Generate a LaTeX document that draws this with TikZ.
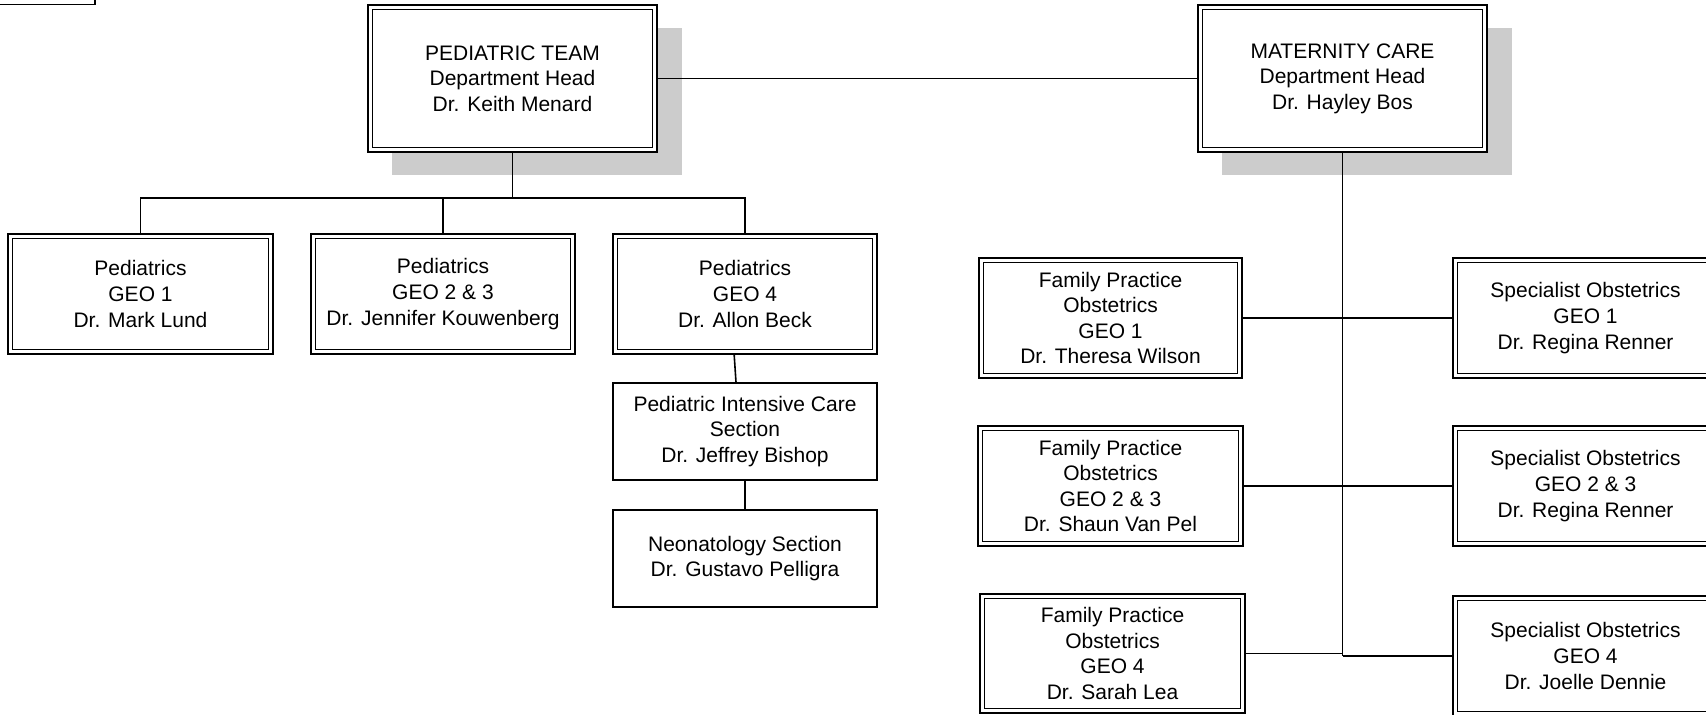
\documentclass[tikz,border=0pt]{standalone}
\usepackage{fontspec}
\setmainfont{Liberation Sans}
\usetikzlibrary{calc}
\pgfdeclarelayer{shadowlayer}
\pgfdeclarelayer{linklayer}
\pgfsetlayers{shadowlayer,linklayer,main}
\newcommand\orgtxt{\fontsize{10.5}{12.8}\selectfont}
\begin{document}
\begin{tikzpicture}[x=0.5pt,y=-0.5pt,
  dbox/.style 2 args={draw, double, double distance=1.75pt, line width=0.65pt, fill=white,
    inner sep=0pt, align=center, font=\orgtxt,
    minimum width={(#1-4.8)*0.5pt}, minimum height={(#2-4.8)*0.5pt}},
  sbox/.style 2 args={draw, line width=0.75pt, fill=white, inner sep=0pt, align=center,
    font=\orgtxt, minimum width={#1*0.5pt}, minimum height={#2*0.5pt}},
  shadowfill/.style={fill=black!20},
  link/.style={line width=0.8pt}]
\useasboundingbox (0,0) rectangle (1706,714);

% fragment of a box at the top left corner
\draw[line width=0.75pt] (-40,-40) rectangle (95,4.7);

% heads
\node[dbox={289}{147}] (pt) at (512.5,78.5) {PEDIATRIC TEAM\\Department Head\\Dr. Keith Menard};
\node[dbox={289}{147}] (mc) at (1342.5,78.5) {MATERNITY CARE\\Department Head\\Dr. Hayley Bos};

% pediatrics
\node[dbox={265}{120}] (p1) at (140.5,294) {Pediatrics\\GEO 1\\Dr. Mark Lund};
\node[dbox={264}{120}] (p23) at (443,294) {Pediatrics\\GEO 2 \& 3\\Dr. Jennifer Kouwenberg};
\node[dbox={264}{120}] (p4) at (745,294) {Pediatrics\\GEO 4\\Dr. Allon Beck};
\node[sbox={264}{97}] (pic) at (745,431.5) {Pediatric Intensive Care\\Section\\Dr. Jeffrey Bishop};
\node[sbox={264}{97}] (neo) at (745,558.5) {Neonatology Section\\Dr. Gustavo Pelligra};

% maternity
\node[dbox={263}{120}] (fp1) at (1110.5,318) {Family Practice\\Obstetrics\\GEO 1\\Dr. Theresa Wilson};
\node[dbox={265}{120}] (fp23) at (1110.5,486) {Family Practice\\Obstetrics\\GEO 2 \& 3\\Dr. Shaun Van Pel};
\node[dbox={265}{119}] (fp4) at (1112.5,653.5) {Family Practice\\Obstetrics\\GEO 4\\Dr. Sarah Lea};
\node[dbox={265}{120}] (so1) at (1585.5,318) {Specialist Obstetrics\\GEO 1\\Dr. Regina Renner};
\node[dbox={265}{120}] (so23) at (1585.5,486) {Specialist Obstetrics\\GEO 2 \& 3\\Dr. Regina Renner};
\node[dbox={265}{120}] (so4) at (1585.5,656) {Specialist Obstetrics\\GEO 4\\Dr. Joelle Dennie};

\coordinate (bus) at (512.5,198);
\coordinate (mcend) at (1342.5,656);

\begin{pgfonlayer}{shadowlayer}
  \fill[shadowfill] (392,28) rectangle (682,175);
  \fill[shadowfill] (1222,28) rectangle (1512,175);
\end{pgfonlayer}

\begin{pgfonlayer}{linklayer}
  \draw[link] (pt.center) -- (mc.center);
  \draw[link] (pt.center) -- (bus);
  \draw[link] (p1.center) -- (p1.center |- bus) -- (p4.center |- bus) -- (p4.center);
  \draw[link] (p23.center) -- (p23.center |- bus);
  \draw[link] ($(p4.south)+(-11,0)$) -- ($(pic.north)+(-9,0)$);
  \draw[link] (pic.center) -- (neo.center);
  \draw[link] (mc.center) -- (mcend);
  \draw[link] (fp1.center) -- (so1.center);
  \draw[link] (fp23.center) -- (so23.center);
  \draw[link] (fp4.center) -- (fp4.center -| mcend);
  \draw[link] (mcend) -- (so4.center);
\end{pgfonlayer}
\end{tikzpicture}
\end{document}
